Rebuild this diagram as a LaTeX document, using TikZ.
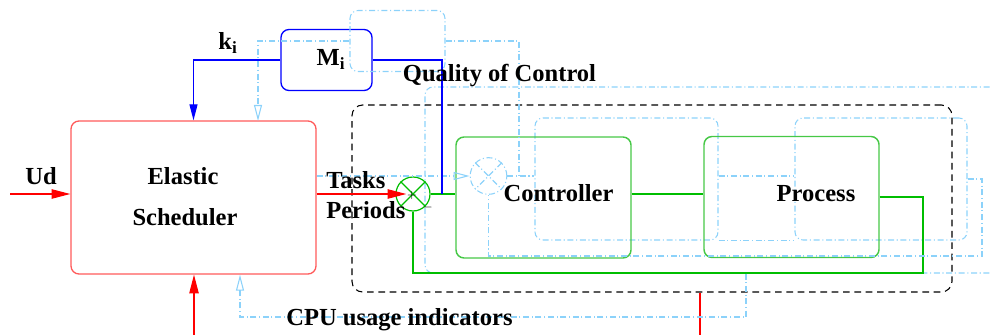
\documentclass[tikz,border=0pt]{standalone}
\usepackage{fontspec}
\setmainfont{Liberation Serif}
\usepackage{tikz}
\usetikzlibrary{arrows.meta}

\definecolor{schedred}{RGB}{255,90,90}
\definecolor{boxgreen}{RGB}{70,200,70}
\definecolor{wiregreen}{RGB}{0,190,0}
\definecolor{ghostblue}{RGB}{140,210,250}

\tikzset{
  lbl/.style={inner sep=0pt, anchor=base, font=\fontsize{18.4}{22}\selectfont\bfseries},
  signlbl/.style={inner sep=0pt, font=\fontsize{9}{9}\selectfont},
  redarrow/.style={draw=red, line width=0.9, -{Triangle[length=14pt,width=7pt]}},
  bluewire/.style={draw=blue, line width=0.9},
  greenwire/.style={draw=wiregreen, line width=0.9},
  ghost/.style={draw=ghostblue, line width=0.8, dash pattern=on 4.5pt off 2pt on 0.8pt off 2pt},
  ghostarrow/.style={ghost, -{Triangle[open,length=12pt,width=6pt]}},
  schedbox/.style={draw=schedred, line width=1, rounded corners=6pt},
  mbox/.style={draw=blue, line width=1, rounded corners=6pt},
  greenbox/.style={draw=boxgreen, line width=1.1, rounded corners=6pt},
  ghostbox/.style={ghost, rounded corners=6pt},
  plantbox/.style={draw=black, line width=0.8, dash pattern=on 5pt off 3.5pt, rounded corners=8pt},
  sumnode/.style={circle, draw=wiregreen, line width=0.9, minimum size=25.5pt, inner sep=0pt}
}

\begin{document}
\begin{tikzpicture}[x=0.75pt,y=0.75pt,yscale=-1,xscale=1]
\useasboundingbox (0,0) rectangle (990,335);
\clip (0,0) rectangle (990,335);

%Shape: Rounded Rect [id:sched]
\node[schedbox, minimum width=183.75pt, minimum height=114.75pt] (sched) at (193.5,197.5) {};
%Shape: Rounded Rect [id:mi]
\node[mbox, minimum width=68.25pt, minimum height=45.75pt] (mi) at (326.5,60) {};
%Shape: Rounded Rect [id:gm]
\node[ghostbox, minimum width=71.25pt, minimum height=45.75pt] (gm) at (397.5,41) {};
%Shape: Rounded Rect [id:gplant]
\node[ghostbox, minimum width=438.75pt, minimum height=139.5pt] (gplant) at (717.5,180) {};
%Shape: Rounded Rect [id:plant]
\node[plantbox, minimum width=450pt, minimum height=140.25pt] (plant) at (652,198.5) {};
%Shape: Rounded Rect [id:gctrl]
\node[ghostbox, minimum width=137.25pt, minimum height=91.5pt] (gctrl) at (626.5,179) {};
%Shape: Rounded Rect [id:gproc]
\node[ghostbox, minimum width=129pt, minimum height=91.5pt] (gproc) at (881,179) {};
%Shape: Rounded Rect [id:ctrl]
\node[greenbox, minimum width=131.25pt, minimum height=90.75pt] (ctrl) at (543.5,197.5) {};
%Shape: Rounded Rect [id:proc]
\node[greenbox, minimum width=131.25pt, minimum height=90.75pt] (proc) at (791.5,197) {};
%Shape: Circle [id:sum]
\node[sumnode] (sum) at (413,194) {};
\draw[greenwire] (sum.north west) -- (sum.south east) (sum.north east) -- (sum.south west);
%Shape: Circle [id:gsum]
\node[ghost, circle, minimum size=27.5pt, inner sep=0pt] (gsum) at (488.5,176) {};
\draw[ghost] (gsum.north west) -- (gsum.south east) (gsum.north east) -- (gsum.south west);

%Straight Lines [id:ud]
\coordinate (udin) at (10,194);
\draw[redarrow] (udin) -- (udin -| sched.west);
%Straight Lines [id:res]
\coordinate (resin) at (194,335);
\draw[redarrow] (resin) -- (resin |- sched.south);
%Straight Lines [id:ki]
\draw[bluewire, -{Triangle[length=12pt,width=6pt]}] (mi.west) -| (sched.north);
%Straight Lines [id:gki]
\coordinate (gk) at (258,121);
\draw[ghostarrow] (gm.west) -| (gk);
%Straight Lines [id:tasks]
\draw[redarrow, shorten >=5pt] (sched.east |- sum) -- (sum.center);
\draw[ghostarrow] (sched.east |- gsum) -- (gsum.west);
%Straight Lines [id:err]
\draw[greenwire] (sum.east) -- (sum.east -| ctrl.west);
\draw[ghost] (gsum.east) -- (gsum.east -| gctrl.west);
%Straight Lines [id:qoc]
\coordinate (mijoin) at (442,194);
\draw[bluewire] (mi.east) -| (mijoin);
\coordinate (gmjoin) at (519,176);
\draw[ghost] (gm.east) -| (gmjoin);
%Straight Lines [id:u]
\draw[greenwire] (ctrl.east |- sum) -- (proc.west |- sum);
\draw[ghost] (gctrl.east |- gsum) -- (gproc.west |- gsum);
\draw[ghost] (gctrl.south east) -- (gproc.south west);
%Straight Lines [id:fb]
\coordinate (fb) at (923,273);
\draw[greenwire] (proc.east) -| (fb) -| (sum.south);
\coordinate (gfb) at (982,256);
\draw[ghost] (gproc.east) -| (gfb) -| (gsum.south);
%Straight Lines [id:cpu]
\coordinate (cpuout) at (700,335);
\draw[red, line width=0.9] (cpuout |- plant.south) -- (cpuout);
\coordinate (gcpu) at (746,317);
\coordinate (gcpuin) at (240,317);
\draw[ghostarrow] (gcpu |- gplant.south) -- (gcpu) -- (gcpuin) -- (gcpuin |- sched.south);

% Text Node
\node[lbl] (udlbl) at (41,185) {Ud};
% Text Node
\node[lbl] (elastic) at (183,185) {Elastic};
% Text Node
\node[lbl] (scheduler) at (185,225) {Scheduler};
% Text Node
\node[lbl] (klbl) at (228,50) {k\textsubscript{i}};
% Text Node
\node[lbl] (mlbl) at (331,66) {M\textsubscript{i}};
% Text Node
\node[lbl] (qoc) at (499.5,82) {Quality of Control};
% Text Node
\node[lbl, anchor=base west] (tasks) at (326,188) {Tasks};
% Text Node
\node[lbl, anchor=base west] (periods) at (326,219) {Periods};
% Text Node
\node[lbl] (ctrllbl) at (558.5,201) {Controller};
% Text Node
\node[lbl] (proclbl) at (816,201) {Process};
% Text Node
\node[lbl] (cpulbl) at (399.5,325) {CPU usage indicators};
% Text Node
\node[signlbl] (plus) at (412,195) {$+$};
% Text Node
\node[signlbl] (minus) at (428,207) {$-$};

\end{tikzpicture}
\end{document}
